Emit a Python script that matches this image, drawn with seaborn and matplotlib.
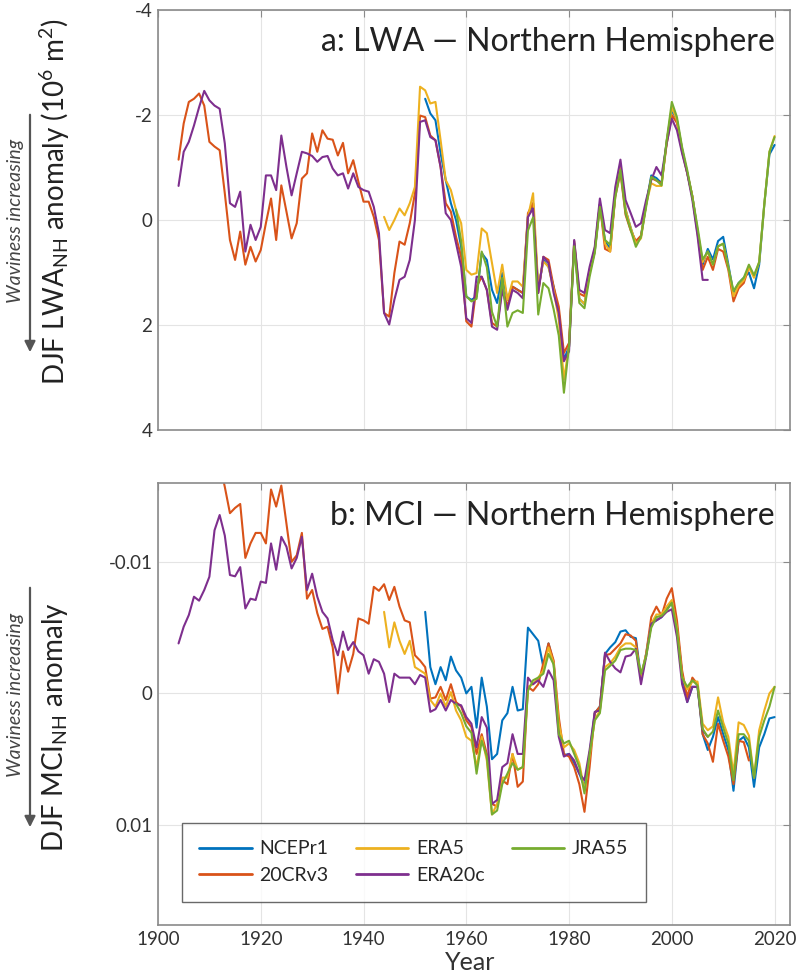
import numpy as np
import pandas as pd
import matplotlib
matplotlib.use('Agg')
import matplotlib.pyplot as plt
import seaborn as sns

# ---- data ----
datasets = ['NCEPr1', '20CRv3', 'ERA5', 'ERA20c', 'JRA55']
colors = ['#0072BD', '#D95319', '#EDB120', '#7E2F8E', '#77AC30']
xticks = [1900, 1920, 1940, 1960, 1980, 2000, 2020]

# panel a: DJF LWA_NH anomaly (10^6 m^2), first year of each record
lwa_start = {'NCEPr1': 1952, '20CRv3': 1904, 'ERA5': 1944, 'ERA20c': 1904, 'JRA55': 1958}

lwa_ncep = [-2.31, -2.03, -1.90, -1.27, -0.76, -0.32, 0.00, 0.51, 1.46, 1.52,
            1.46, 0.63, 0.76, 1.33, 1.58, 1.01, 1.52, 1.27, 1.33, 1.39,
            -0.06, -0.32, 1.33, 0.76, 0.89, 1.27, 1.77, 2.66, 2.41,
            0.45, 1.50, 1.60, 1.00, 0.60, -0.30, 0.40, 0.55, -0.50, -1.00,
            -0.20, 0.15, 0.45, 0.30, -0.30, -0.85, -0.80, -0.70, -1.50, -2.10,
            -1.90, -1.35, -0.90, -0.45, 0.20, 0.85, 0.55, 0.75, 0.40, 0.32,
            0.85, 1.40, 1.20, 1.10, 1.00, 1.30, 0.85, -0.30, -1.25, -1.43]

lwa_20cr = [-1.15, -1.84, -2.25, -2.31, -2.41, -2.18, -1.49, -1.40, -1.33, -0.51,
            0.38, 0.76, 0.22, 0.85, 0.51, 0.79, 0.57, 0.06, -0.41, 0.38,
            -0.66, -0.16, 0.35, 0.06, -0.79, -0.89, -1.65, -1.30, -1.71, -1.55,
            -1.53, -1.23, -1.47, -0.89, -1.14, -0.73, -0.35, -0.35, -0.06, 0.38,
            1.77, 1.84, 1.01, 0.41, 0.47, 0.06, -0.51, -1.99, -1.96, -1.61,
            -1.52, -1.01, -0.32, -0.16, 0.32, 0.70, 1.93, 2.03, 1.27, 1.08,
            1.33, 1.96, 2.03, 1.27, 1.65, 1.27, 1.33, 1.39, -0.13, -0.32,
            1.39, 0.70, 0.76, 1.27, 1.65, 2.53, 2.34,
            0.40, 1.40, 1.45, 0.95, 0.55, -0.30, 0.55, 0.60, -0.45, -0.90,
            -0.10, 0.20, 0.40, 0.30, -0.30, -0.80, -0.75, -0.70, -1.45, -2.00,
            -1.85, -1.30, -0.90, -0.45, 0.25, 0.95, 0.70, 0.95, 0.55, 0.60,
            0.95, 1.55, 1.30, 1.20, 0.90]

lwa_era5 = [-0.06, 0.19, 0.00, -0.22, -0.09, -0.32, -0.63, -2.54, -2.47, -2.22,
            -2.25, -1.52, -0.76, -0.57, -0.19, 0.06, 0.95, 1.04, 1.01, 0.16,
            0.25, 0.82, 1.39, 0.85, 1.52, 1.17, 1.17, 1.27, -0.06, -0.51,
            1.27, 0.79, 0.89, 1.33, 1.90, 3.04, 2.40,
            0.45, 1.50, 1.60, 1.00, 0.60, -0.30, 0.45, 0.60, -0.50, -1.00,
            -0.20, 0.15, 0.45, 0.35, -0.30, -0.70, -0.65, -0.65, -1.50, -2.15,
            -1.90, -1.35, -0.90, -0.45, 0.20, 0.80, 0.60, 0.85, 0.50, 0.45,
            0.90, 1.45, 1.25, 1.15, 0.90, 1.10, 0.80, -0.30, -1.30, -1.60]

lwa_era20c = [-0.65, -1.30, -1.49, -1.80, -2.15, -2.46, -2.28, -2.18, -2.12, -1.46,
              -0.32, -0.25, -0.54, 0.60, 0.09, 0.38, 0.13, -0.85, -0.85, -0.57,
              -1.61, -1.01, -0.47, -0.89, -1.30, -1.27, -1.22, -1.11, -1.20, -1.22,
              -0.98, -0.85, -0.89, -0.60, -0.89, -0.63, -0.57, -0.54, -0.25, 0.25,
              1.77, 1.99, 1.52, 1.14, 1.08, 0.76, 0.00, -1.87, -1.90, -1.58,
              -1.52, -1.01, -0.13, 0.00, 0.44, 0.89, 1.87, 1.96, 1.08, 1.08,
              1.33, 2.03, 2.09, 1.33, 1.71, 1.33, 1.39, 1.49, -0.06, -0.22,
              1.39, 0.70, 0.82, 1.39, 1.77, 2.69, 2.50,
              0.38, 1.33, 1.39, 0.89, 0.51, -0.41, 0.19, 0.25, -0.63, -1.15,
              -0.38, -0.13, 0.13, 0.06, -0.38, -0.76, -1.01, -0.85, -1.46, -1.93,
              -1.71, -1.27, -0.89, -0.38, 0.30, 1.14, 1.14]

lwa_jra55 = [-0.20, 0.40, 1.45, 1.55, 1.50, 0.60, 0.90, 1.75, 2.03, 1.10,
             2.03, 1.77, 1.72, 1.77, 0.20, -0.05, 1.80, 1.20, 1.30, 1.70,
             2.20, 3.29, 2.40,
             0.50, 1.58, 1.68, 1.08, 0.63, -0.25, 0.38, 0.47, -0.44, -0.95,
             -0.13, 0.19, 0.51, 0.32, -0.25, -0.82, -0.76, -0.66, -1.52, -2.25,
             -1.96, -1.39, -0.95, -0.44, 0.13, 0.75, 0.60, 0.85, 0.50, 0.45,
             0.90, 1.35, 1.20, 1.10, 0.85, 1.05, 0.80, -0.30, -1.30, -1.58]

# panel b: DJF MCI_NH anomaly, in units of 1e-3
mci_start = {'NCEPr1': 1952, '20CRv3': 1912, 'ERA5': 1944, 'ERA20c': 1904, 'JRA55': 1958}

mci_ncep = [-6.2, -2.0, -0.7, -2.0, -1.0, -2.8, -1.75, -1.2, 0.0, -0.5,
            2.6, -1.2, 1.0, 5.0, 4.6, 2.05, 1.5, -0.5, 1.3, 1.2,
            -5.0, -4.5, -4.0, -2.0, -3.8, -2.3, 2.6, 4.7, 4.6,
            5.3, 6.1, 7.1, 4.6, 1.5, 1.0, -3.0, -3.5, -3.9, -4.7,
            -4.8, -4.3, -4.2, -1.2, -3.0, -5.3, -5.55, -5.8, -6.4, -6.9,
            -5.0, -1.5, 0.66, -0.5, -0.5, 3.1, 4.3, 3.3, 1.8, 3.1,
            4.3, 7.4, 3.6, 3.3, 4.1, 7.1, 4.1, 3.1, 1.9, 1.8]

mci_20cr = [-17.5, -15.7, -13.7, -14.1, -14.4, -10.3, -11.4, -12.2, -12.2, -11.4,
            -15.5, -14.2, -15.8, -12.9, -10.0, -10.5, -12.2, -7.2, -7.86, -6.1,
            -4.9, -5.07, -3.5, 0.0, -3.2, -1.65, -3.0, -5.7, -5.55, -5.3,
            -8.1, -7.8, -8.3, -7.1, -8.1, -6.6, -5.55, -5.4, -2.9, -2.5,
            -2.0, 0.4, 0.3, -0.5, 0.5, -0.7, 0.66, 1.0, 2.05, 2.56,
            4.6, 3.1, 4.6, 8.4, 8.6, 6.6, 6.9, 4.6, 7.1, 6.7,
            -0.5, -0.2, -0.7, -2.3, -3.8, -2.5, 1.8, 4.6, 4.8,
            5.6, 6.9, 9.0, 5.6, 1.5, 1.0, -2.9, -3.0, -3.4, -3.8,
            -4.5, -4.4, -4.0, -1.0, -3.0, -5.8, -6.6, -5.9, -7.2, -8.0,
            -5.55, -1.75, 0.3, -1.2, -0.7, 3.1, 3.8, 5.2, 2.3, 3.6,
            4.8, 6.9, 3.6, 3.7, 5.1]

mci_era5 = [-6.2, -3.5, -5.4, -4.0, -3.0, -4.0, -2.0, -1.75, -1.5, 0.5,
            1.0, 0.0, 1.0, -0.1, 1.3, 2.05, 3.3, 3.6, 5.6, 3.3,
            5.1, 9.2, 8.4, 6.4, 6.4, 4.6, 5.8, 5.6, -0.5, -0.7,
            -1.2, -1.75, -3.5, -2.3, 2.3, 4.1, 3.8,
            4.3, 5.3, 7.4, 4.8, 2.0, 1.3, -2.0, -2.3, -2.8, -3.5,
            -3.8, -3.8, -3.5, -1.3, -3.0, -5.3, -6.0, -6.0, -6.6, -7.1,
            -5.0, -1.3, -0.3, -0.9, -0.9, 2.3, 2.8, 2.5, 0.3, 2.2,
            3.3, 6.1, 2.2, 2.4, 3.2, 6.4, 2.8, 1.3, 0.0, -0.5]

mci_era20c = [-3.8, -5.07, -5.96, -7.35, -7.05, -7.86, -8.87, -12.4, -13.56, -12.0,
              -9.0, -8.9, -9.6, -6.46, -7.2, -7.1, -8.5, -8.4, -11.4, -9.4,
              -11.9, -11.15, -9.5, -10.3, -11.9, -7.86, -9.1, -7.35, -6.2, -5.7,
              -4.05, -2.9, -4.7, -3.3, -3.9, -3.2, -2.9, -1.5, -2.6, -2.4,
              -1.5, 0.66, -1.5, -1.2, -1.2, -1.2, -0.7, -1.4, -1.2, 1.4,
              1.2, 0.5, 1.3, 0.5, 0.8, 0.9, 1.8, 2.3, 4.1, 1.8,
              2.6, 8.4, 8.1, 5.6, 5.3, 3.1, 4.6, 4.6, -1.2, -0.7,
              -1.0, -0.5, -1.75, -1.0, 3.3, 4.8, 4.6,
              5.1, 6.1, 6.6, 4.3, 1.4, 1.3, -3.1, -2.4, -1.9, -1.6,
              -2.8, -2.9, -3.4, -0.7, -2.8, -5.3, -5.55, -5.8, -6.2, -6.4,
              -4.3, -0.7, 0.66, -0.5, -0.5, 2.8, 3.3]

mci_jra55 = [0.8, 1.5, 2.5, 3.0, 6.1, 3.6, 4.8, 9.2, 8.9, 6.9,
             6.1, 5.3, 5.8, 5.6, -0.2, -1.0, -1.2, -1.5, -3.0, -2.2,
             3.1, 3.8, 3.6,
             4.6, 5.6, 7.6, 4.6, 2.05, 1.5, -1.75, -2.1, -2.5, -3.3,
             -3.4, -3.4, -3.3, -1.5, -2.8, -5.0, -5.8, -5.9, -6.3, -6.9,
             -4.8, -1.2, -0.5, -1.0, -0.6, 2.7, 3.3, 2.9, 1.3, 2.6,
             3.8, 6.6, 3.1, 3.1, 3.6, 6.4, 3.3, 2.05, 1.0, -0.5]


def long_table(series, starts, scale=1.0):
    frames = []
    for name in datasets:
        vals = np.asarray(series[name], dtype=float) * scale
        yrs = np.arange(starts[name], starts[name] + len(vals))
        frames.append(pd.DataFrame({'year': yrs, 'value': vals, 'dataset': name}))
    return pd.concat(frames, ignore_index=True)


lwa_df = long_table({'NCEPr1': lwa_ncep, '20CRv3': lwa_20cr, 'ERA5': lwa_era5,
                     'ERA20c': lwa_era20c, 'JRA55': lwa_jra55}, lwa_start)
mci_df = long_table({'NCEPr1': mci_ncep, '20CRv3': mci_20cr, 'ERA5': mci_era5,
                     'ERA20c': mci_era20c, 'JRA55': mci_jra55}, mci_start, 1e-3)

# ---- styling ----
sns.set_style('white')
plt.rcParams['font.family'] = ['Lato', 'DejaVu Sans']
plt.rcParams['mathtext.default'] = 'regular'
spine_col = '#8a8a8a'
text_col = '#333333'

fig = plt.figure(figsize=(8, 9.76), dpi=100)
ax_a = fig.add_axes([0.1975, 0.5594, 0.79, 0.4303])
ax_b = fig.add_axes([0.1975, 0.0523, 0.79, 0.4529])

for ax, df in [(ax_a, lwa_df), (ax_b, mci_df)]:
    sns.lineplot(data=df, x='year', y='value', hue='dataset', hue_order=datasets,
                 palette=colors, linewidth=1.5, estimator=None, ax=ax,
                 legend=(ax is ax_b))
    ax.set_xlim(1900, 2023)
    ax.set_xticks(xticks)
    ax.grid(True, color='#e4e4e4', linewidth=0.8)
    ax.set_axisbelow(True)
    ax.tick_params(direction='in', top=True, right=True, length=5, width=0.8,
                   color=spine_col, labelcolor=text_col, labelsize=13.5, pad=4)
    for s in ax.spines.values():
        s.set_color(spine_col)
        s.set_linewidth(1.2)
    ax.set_xlabel('')
    ax.set_ylabel('')

ax_a.set_ylim(4, -4)
ax_a.set_yticks([-4, -2, 0, 2, 4])
ax_a.set_yticklabels(['-4', '-2', '0', '2', '4'])
ax_a.tick_params(labelbottom=False)

ax_b.set_ylim(0.0176, -0.016)
ax_b.set_yticks([-0.01, 0, 0.01])
ax_b.set_yticklabels(['-0.01', '0', '0.01'])

ax_a.text(0.976, 0.925, 'a: LWA \u2014 Northern Hemisphere', transform=ax_a.transAxes,
          ha='right', va='center', fontsize=23, color='#222222')
ax_b.text(0.976, 0.925, 'b: MCI \u2014 Northern Hemisphere', transform=ax_b.transAxes,
          ha='right', va='center', fontsize=23, color='#222222')

handles, labels = ax_b.get_legend_handles_labels()
leg = ax_b.legend(handles, labels, ncol=3, loc='upper left',
                  bbox_to_anchor=(0.022, 0.253), fontsize=14, frameon=True,
                  fancybox=False, edgecolor='#444444', handlelength=2.7,
                  columnspacing=1.4, handletextpad=0.4, labelspacing=0.5,
                  borderpad=0.9)
leg.get_frame().set_linewidth(1.0)
for line in leg.get_lines():
    line.set_linewidth(2.0)

fig.text(0.5875, 0.002, 'Year', ha='center', va='bottom', fontsize=18, color=text_col)

# y-axis labels and "waviness increasing" arrows
fig.text(0.069, 1 - 202 / 976, 'DJF LWA$_{NH}$ anomaly (10$^{6}$ m$^{2}$)', rotation=90,
         ha='center', va='center', fontsize=20, color='#222222')
fig.text(0.069, 1 - 727 / 976, 'DJF MCI$_{NH}$ anomaly', rotation=90,
         ha='center', va='center', fontsize=20, color='#222222')

for top, bottom in [(112, 355), (585, 830)]:
    fig.text(0.019, 1 - (top + bottom - 25) / 2 / 976, 'Waviness increasing', rotation=90,
             ha='center', va='center', fontsize=14, style='italic', color='#444444')
    ax_a.annotate('', xy=(0.0375, 1 - bottom / 976), xytext=(0.0375, 1 - top / 976),
                  xycoords='figure fraction', textcoords='figure fraction',
                  arrowprops=dict(arrowstyle='-|>', color='#555555', lw=1.6,
                                  mutation_scale=16))

fig.savefig('out.png', dpi=100)
